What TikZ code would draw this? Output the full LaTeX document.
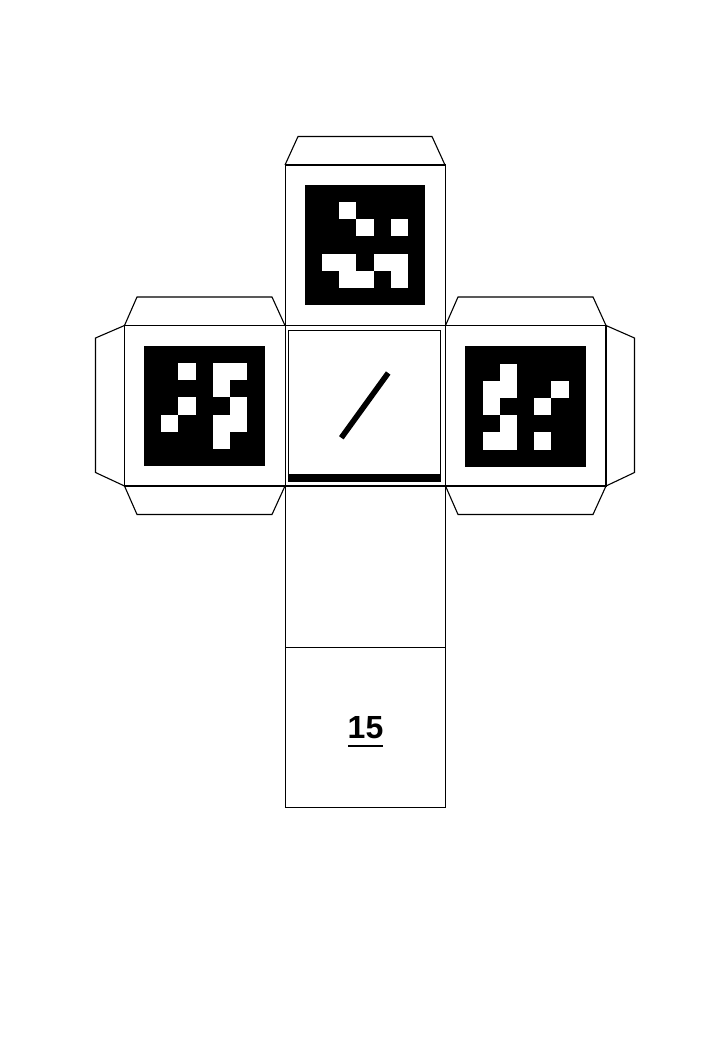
\documentclass[tikz,border=0pt]{standalone}
\usepackage{fontspec}
\setmainfont{Liberation Sans}
\newcommand{\arucomark}[3]{%
  \begin{scope}[shift={(#1,#2)}]
    \fill[black] (0,0) rectangle (120.6,120.6);
    \foreach \cc/\rr in {#3}
      \fill[white] ({\cc*17.23},{\rr*17.23}) rectangle ({(\cc+1)*17.23},{(\rr+1)*17.23});
  \end{scope}}
\tikzset{
  edge line/.style={draw=black,line width=1.1pt,line join=miter},
  inner frame/.style={draw=black,line width=1.3pt},
  numeral/.style={font=\bfseries\fontsize{32}{32}\selectfont,inner sep=0pt,anchor=base}
}
\begin{document}
\begin{tikzpicture}[x=1pt,y=-1pt]
\useasboundingbox (0,0) rectangle (720,1040);
\fill[white] (0,0) rectangle (720,1040);
% tabs
\draw[edge line] (285,165) -- (298,136.5) -- (432,136.5) -- (445,165);
\draw[edge line] (124.5,325.5) -- (137,297) -- (272,297) -- (285,325.5);
\draw[edge line] (124.5,486) -- (137,514.5) -- (272,514.5) -- (285,486);
\draw[edge line] (124.5,325.5) -- (95.5,338) -- (95.5,472.5) -- (124.5,486);
\draw[edge line] (445.5,325.5) -- (458,297) -- (593,297) -- (606,325.5);
\draw[edge line] (445.5,486) -- (458,514.5) -- (593,514.5) -- (606,486);
\draw[edge line] (606,325.5) -- (634.5,338) -- (634.5,472.5) -- (606,486);
% faces
\draw[edge line] (285.5,165) rectangle (445.5,325.5);
\draw[edge line] (124.5,325.5) rectangle (285.5,486);
\draw[edge line] (445.5,325.5) rectangle (606,486);
\draw[edge line] (285.5,325.5) rectangle (445.5,486);
\draw[edge line] (285.5,486) rectangle (445.5,647.5);
\draw[edge line] (285.5,647.5) rectangle (445.5,807.5);
% markers
\arucomark{304.7}{184.8}{2/1,3/2,5/2,1/4,2/4,4/4,5/4,2/5,3/5,5/5}
\arucomark{144}{345.7}{2/1,4/1,5/1,4/2,2/3,5/3,1/4,4/4,5/4,4/5}
\arucomark{465.3}{346.3}{2/1,1/2,2/2,5/2,1/3,4/3,2/4,1/5,2/5,4/5}
% centre face
\draw[inner frame] (288.7,330.8) rectangle (440.7,481);
\fill[black] (288,473.5) rectangle (441,481.7);
\draw[black,line width=5.6pt] (341.3,437.8) -- (388.2,373);
% number
\node[numeral] (num) at (365.5,738.3) {15};
\coordinate (ulA) at (348,746);
\coordinate (ulB) at (383,746);
\draw[black,line width=2pt] (ulA) -- (ulB);
\end{tikzpicture}
\end{document}
